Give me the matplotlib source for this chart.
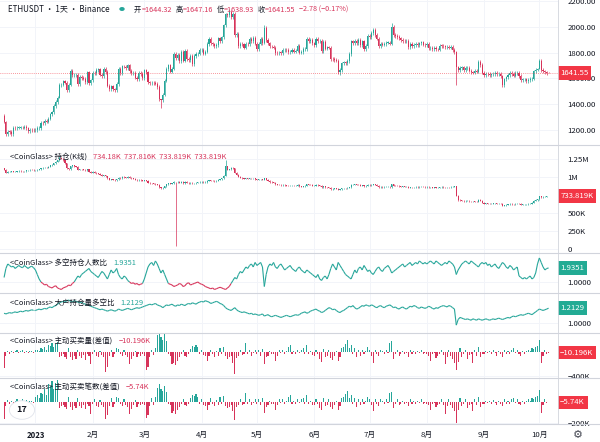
import numpy as np
import pandas as pd
import matplotlib
matplotlib.use("Agg")
import matplotlib.pyplot as plt
import matplotlib.dates as mdates
from matplotlib.collections import LineCollection
from matplotlib.lines import Line2D
from matplotlib.transforms import blended_transform_factory

plt.rcParams['font.family'] = ['Noto Sans CJK SC', 'DejaVu Sans']

START = '2022-12-15'

# ETH daily closes, Dec 15 2022 .. Oct 6 2023 (one line per month)
eth_close = [
    1265, 1167, 1187, 1185, 1167, 1217, 1212, 1218, 1219, 1220, 1218, 1226, 1212, 1190, 1200, 1199, 1196,
    1200, 1214, 1214, 1256, 1251, 1269, 1264, 1288, 1321, 1336, 1385, 1418, 1451, 1550, 1553, 1577, 1567, 1512, 1552, 1658, 1627, 1628, 1630, 1557, 1612, 1603, 1598, 1572, 1647, 1565, 1586,
    1642, 1640, 1665, 1670, 1630, 1616, 1673, 1650, 1545, 1515, 1538, 1516, 1507, 1558, 1676, 1640, 1694, 1692, 1683, 1702, 1657, 1642, 1646, 1606, 1595, 1641, 1634, 1605,
    1663, 1647, 1569, 1565, 1565, 1564, 1561, 1534, 1437, 1429, 1474, 1583, 1675, 1702, 1654, 1676, 1791, 1760, 1784, 1737, 1807, 1738, 1817, 1750, 1743, 1775, 1713, 1774, 1792, 1794, 1822,
    1823, 1793, 1808, 1867, 1909, 1872, 1866, 1850, 1862, 1911, 1892, 1919, 2012, 2099, 2094, 2117, 2075, 2100, 1937, 1944, 1852, 1871, 1866, 1840, 1867, 1866, 1908, 1893, 1918, 1870,
    1828, 1871, 1907, 1877, 1991, 1900, 1873, 1849, 1847, 1839, 1797, 1796, 1801, 1800, 1822, 1823, 1820, 1802, 1808, 1820, 1808, 1817, 1855, 1801, 1805, 1828, 1830, 1910, 1893, 1902, 1873,
    1862, 1906, 1891, 1891, 1811, 1887, 1833, 1842, 1839, 1752, 1751, 1742, 1739, 1650, 1666, 1718, 1725, 1720, 1737, 1789, 1889, 1875, 1894, 1875, 1898, 1857, 1888, 1829, 1853, 1934,
    1923, 1953, 1975, 1939, 1910, 1851, 1870, 1863, 1867, 1878, 1878, 1871, 2002, 1938, 1932, 1923, 1912, 1898, 1891, 1890, 1892, 1841, 1871, 1854, 1859, 1870, 1861, 1873, 1880, 1864, 1857,
    1870, 1836, 1838, 1829, 1835, 1827, 1825, 1855, 1853, 1849, 1846, 1848, 1839, 1844, 1820, 1807, 1686, 1663, 1682, 1686, 1666, 1683, 1684, 1661, 1648, 1645, 1657, 1653, 1729, 1705, 1646,
    1628, 1636, 1634, 1628, 1631, 1633, 1646, 1635, 1635, 1617, 1550, 1593, 1608, 1628, 1642, 1635, 1623, 1642, 1645, 1621, 1585, 1593, 1593, 1581, 1589, 1595, 1599, 1656, 1669, 1671,
    1734, 1664, 1656, 1648, 1644.32, 1641.55,
]
eth_first_open = 1308
# days with long wicks: (high, low)
eth_wicks = {
    '2022-12-16': (1272, 1150), '2023-01-14': (1565, 1450), '2023-03-10': (1440, 1370),
    '2023-04-16': (2140, 2080), '2023-05-05': (2015, 1870), '2023-06-15': (1680, 1626),
    '2023-07-13': (2030, 1860), '2023-08-17': (1810, 1550), '2023-10-01': (1750, 1670),
    '2023-10-06': (1647.16, 1638.93),
}

# open interest (K)
oi_close = [
    1100, 1060, 1070, 1075, 1080, 1070, 1075, 1080, 1085, 1080, 1078, 1082, 1090, 1095, 1100, 1098, 1090,
    1095, 1100, 1105, 1120, 1125, 1130, 1128, 1140, 1160, 1170, 1190, 1210, 1230, 1270, 1250, 1230, 1190, 1120, 1110, 1150, 1160, 1150, 1140, 1100, 1110, 1105, 1100, 1095, 1110, 1070, 1060,
    1070, 1060, 1050, 1045, 1030, 1020, 1025, 1010, 980, 960, 965, 960, 955, 965, 990, 985, 1000, 995, 990, 1000, 990, 980, 975, 960, 955, 960, 955, 950,
    955, 950, 920, 915, 910, 905, 900, 890, 860, 840, 850, 870, 900, 910, 905, 915, 930, 925, 930, 920, 935, 915, 930, 920, 915, 920, 910, 915, 920, 925, 930,
    930, 925, 930, 945, 955, 950, 945, 940, 945, 960, 970, 985, 1020, 1150, 1100, 1110, 1130, 1120, 1060, 1030, 1000, 990, 985, 975, 980, 975, 985, 980, 985, 970,
    960, 965, 970, 960, 985, 960, 950, 930, 925, 920, 900, 895, 890, 885, 890, 885, 880, 875, 875, 880, 875, 880, 890, 870, 865, 870, 875, 900, 895, 890, 880,
    880, 890, 885, 880, 860, 870, 860, 855, 850, 830, 835, 840, 835, 820, 830, 840, 845, 840, 850, 860, 890, 895, 900, 895, 890, 880, 885, 870, 875, 890,
    885, 895, 900, 890, 880, 860, 865, 860, 862, 865, 866, 860, 900, 880, 878, 875, 870, 865, 868, 865, 866, 850, 860, 855, 858, 862, 860, 865, 866, 862, 860,
    865, 855, 856, 852, 855, 850, 851, 860, 862, 860, 858, 860, 858, 862, 865, 870, 740, 680, 675, 670, 665, 668, 670, 665, 660, 660, 658, 655, 680, 670, 640,
    630, 632, 630, 628, 630, 632, 635, 630, 630, 625, 600, 610, 615, 620, 625, 624, 622, 628, 630, 625, 615, 618, 620, 622, 625, 630, 640, 670, 680, 690,
    730, 720, 725, 728, 734.18, 733.819,
]
oi_first_open = 1120
oi_wicks = {'2023-01-14': (1290, 1225), '2023-03-18': (935, 40), '2023-04-14': (1230, 1015),
            '2023-10-06': (737.816, 733.819)}

# long/short account ratio
acct_ratio = [
    1.3, 1.9, 2.2, 2.1, 2.0, 2.05, 1.9, 2.0, 2.1, 2.0, 1.95, 2.1, 2.0, 1.9, 2.0, 2.05, 1.95,
    1.8, 1.5, 1.2, 1.0, 0.9, 0.8, 0.85, 0.7, 0.65, 0.6, 0.7, 0.75, 0.6, 0.55, 0.5, 0.6, 0.65, 0.7, 0.8, 0.75, 0.9, 1.0, 1.2, 1.4, 1.3, 1.5, 1.6, 1.7, 1.8, 1.9, 1.7,
    1.6, 1.5, 1.4, 1.3, 1.5, 1.7, 1.6, 1.4, 1.2, 1.5, 1.8, 1.6, 1.7, 1.9, 1.5, 1.3, 1.2, 1.4, 1.3, 1.1, 1.0, 0.9, 0.95, 0.85, 0.9, 0.8, 0.85, 0.9,
    1.2, 1.6, 2.0, 2.2, 2.3, 2.1, 2.4, 2.2, 1.9, 1.6, 1.8, 1.5, 1.2, 0.9, 0.85, 0.8, 0.7, 0.75, 0.8, 0.9, 0.85, 0.7, 0.75, 0.9, 0.95, 0.8, 0.85, 0.9, 0.95, 1.0, 0.9,
    0.85, 0.8, 0.7, 0.65, 0.6, 0.55, 0.6, 0.5, 0.55, 0.6, 0.65, 0.6, 0.55, 0.5, 0.6, 0.7, 0.9, 1.1, 1.3, 1.2, 1.5, 1.7, 1.6, 1.8, 2.0, 1.9, 2.1, 2.2, 2.0, 2.3,
    2.1, 2.2, 2.3, 2.0, 0.7, 1.5, 2.0, 2.2, 2.1, 2.3, 2.0, 1.9, 2.1, 2.2, 2.0, 1.8, 1.9, 2.0, 2.1, 1.9, 1.8, 1.7, 1.9, 2.0, 1.8, 1.7, 1.6, 1.8, 1.7, 1.6, 1.5,
    1.4, 1.3, 1.5, 1.2, 1.1, 1.3, 1.4, 1.2, 1.5, 1.9, 2.2, 2.0, 1.8, 2.3, 2.1, 1.9, 1.7, 1.5, 1.4, 1.3, 1.2, 1.5, 1.8, 1.6, 1.9, 2.0, 1.8, 2.1, 1.9, 1.7,
    1.8, 1.6, 1.5, 1.7, 1.9, 2.0, 1.8, 1.7, 1.9, 2.0, 2.1, 1.9, 1.6, 1.7, 1.8, 1.9, 2.0, 2.1, 2.2, 2.0, 2.1, 2.2, 2.3, 2.1, 2.2, 2.3, 2.2, 2.4, 2.3, 2.2, 2.3,
    2.2, 2.3, 2.4, 2.3, 2.2, 2.4, 2.3, 2.2, 2.1, 2.2, 2.3, 2.2, 2.4, 2.3, 2.2, 2.0, 1.5, 1.8, 2.0, 2.2, 2.3, 2.4, 2.3, 2.2, 2.4, 2.3, 2.2, 2.1, 2.0, 2.2, 2.3,
    2.2, 2.3, 2.1, 2.2, 2.0, 2.1, 2.2, 2.0, 1.9, 2.1, 2.3, 2.2, 2.0, 1.9, 2.1, 2.0, 1.8, 1.9, 2.0, 1.4, 1.3, 1.2, 1.3, 1.2, 1.3, 1.4, 1.2, 1.3, 1.6, 2.2,
    2.6, 2.3, 2.0, 1.8, 1.9, 1.9351,
]

# top trader position long/short ratio
top_ratio = [
    1.14, 1.13, 1.14, 1.15, 1.14, 1.15, 1.16, 1.15, 1.16, 1.17, 1.16, 1.17, 1.18, 1.17, 1.18, 1.19, 1.18,
    1.18, 1.19, 1.2, 1.19, 1.2, 1.21, 1.2, 1.22, 1.23, 1.22, 1.24, 1.25, 1.27, 1.29, 1.3, 1.31, 1.3, 1.32, 1.33, 1.31, 1.3, 1.32, 1.31, 1.3, 1.29, 1.3, 1.28, 1.27, 1.26, 1.25, 1.24,
    1.23, 1.22, 1.21, 1.2, 1.19, 1.2, 1.19, 1.18, 1.17, 1.18, 1.19, 1.18, 1.17, 1.18, 1.2, 1.19, 1.18, 1.19, 1.2, 1.21, 1.2, 1.19, 1.2, 1.21, 1.22, 1.21, 1.22, 1.23,
    1.24, 1.25, 1.26, 1.27, 1.26, 1.27, 1.28, 1.26, 1.25, 1.24, 1.22, 1.24, 1.26, 1.25, 1.26, 1.27, 1.25, 1.24, 1.26, 1.25, 1.27, 1.26, 1.25, 1.27, 1.28, 1.27, 1.29, 1.28, 1.27, 1.29, 1.3,
    1.31, 1.3, 1.32, 1.31, 1.3, 1.28, 1.29, 1.3, 1.31, 1.3, 1.28, 1.27, 1.25, 1.22, 1.2, 1.19, 1.18, 1.2, 1.22, 1.19, 1.17, 1.16, 1.15, 1.16, 1.15, 1.14, 1.13, 1.14, 1.12, 1.13,
    1.12, 1.11, 1.12, 1.13, 1.1, 1.11, 1.12, 1.1, 1.09, 1.1, 1.11, 1.1, 1.09, 1.08, 1.09, 1.1, 1.11, 1.1, 1.09, 1.1, 1.11, 1.12, 1.11, 1.12, 1.14, 1.15, 1.16, 1.14, 1.15, 1.17, 1.18,
    1.19, 1.2, 1.18, 1.17, 1.15, 1.16, 1.18, 1.2, 1.22, 1.21, 1.19, 1.2, 1.18, 1.16, 1.15, 1.17, 1.18, 1.2, 1.22, 1.24, 1.23, 1.25, 1.22, 1.2, 1.21, 1.23, 1.25, 1.24, 1.26, 1.25,
    1.24, 1.26, 1.25, 1.23, 1.22, 1.24, 1.25, 1.23, 1.22, 1.24, 1.25, 1.26, 1.24, 1.22, 1.23, 1.21, 1.2, 1.22, 1.23, 1.21, 1.2, 1.22, 1.24, 1.23, 1.25, 1.24, 1.22, 1.21, 1.23, 1.22, 1.21,
    1.22, 1.24, 1.23, 1.21, 1.2, 1.22, 1.21, 1.23, 1.24, 1.25, 1.24, 1.23, 1.25, 1.24, 1.22, 1.2, 0.97, 1.05, 1.08, 1.07, 1.06, 1.05, 1.06, 1.05, 1.04, 1.06, 1.05, 1.04, 1.06, 1.05, 1.04,
    1.05, 1.06, 1.05, 1.04, 1.05, 1.06, 1.05, 1.06, 1.07, 1.06, 1.05, 1.06, 1.07, 1.08, 1.07, 1.09, 1.1, 1.09, 1.1, 1.11, 1.12, 1.11, 1.12, 1.13, 1.14, 1.13, 1.12, 1.14, 1.16, 1.18,
    1.2, 1.19, 1.18, 1.19, 1.2, 1.2129,
]

# taker buy/sell volume difference (K)
taker_vol = [
    -270, -60, 20, -30, 15, -20, 10, 25, -15, 10, 30, -10, 20, -25, 15, 10, -20,
    30, 40, 20, 60, 50, 90, 40, 120, 100, 150, 90, 130, 160, -90, -60, -40, -80, -120, 60, -90, -130, -60, -110, 40, -70, -100, -50, -130, -40, -60, -200,
    -40, 30, -60, -80, 20, -50, -90, -330, -250, -60, 40, -80, -30, 60, 50, -40, -70, 30, -50, -80, -200, -120, -60, 20, -90, -40, -60, -30,
    -60, -300, -250, -80, 40, -50, 60, 280, 330, 250, 200, 300, 180, -40, -60, -200, -180, -220, -150, -90, -40, 30, -60, -80, -30, 50, 100, 90, 120, 80, -40,
    30, -50, -70, -150, -60, 40, -30, -80, 20, -60, 60, -40, 90, -70, -120, -90, -60, -180, -370, -100, -60, 40, -50, -30, 150, -40, 30, -60, -20, 40,
    -40, 30, -60, 50, -200, -90, -60, 20, -40, -30, -150, -60, 30, -20, 40, -30, 20, 80, 120, -40, 20, -30, 40, -20, 30, 60, -40, 120, -30, 20, -50,
    -60, 30, -40, -120, -160, 50, -80, -60, 40, -100, -140, -60, 20, -150, -80, 60, 80, 140, 200, 60, 120, -40, 60, -90, 40, -60, 30, -30, 20, 80,
    40, -60, -180, 30, -40, -70, 40, 20, -30, 40, -20, 150, 180, -120, -40, 30, -60, -40, 20, -30, -20, -80, 30, -40, 20, -30, 10, -20, 30, -40, -20,
    -30, -60, -150, -40, -20, -100, -60, -30, 40, -50, -200, -80, 30, -60, -120, -180, -300, -160, 60, -80, -40, 30, -120, -50, -30, -180, 40, -60, 80, -90, -40,
    -30, 20, -20, 15, -40, 30, -20, -60, 20, -30, -80, 40, -30, 20, -40, 30, 60, -20, 40, -30, -60, 20, -30, 15, 40, 20, 60, 50, 80, 100,
    200, -180, -60, 40, -30, -10.196,
]

# taker buy/sell trade count difference (K)
taker_cnt = [
    -160, -40, 15, -20, 10, -15, 8, 20, -10, 8, 25, -8, 15, -20, 10, 8, -15,
    40, 60, 30, 80, 70, 120, 60, 160, 140, 190, 120, 170, 200, -60, -40, -30, -50, -70, 40, -50, -80, -40, -60, 30, -40, -60, -30, -70, -20, -40, -110,
    -20, 20, -40, -50, 15, -30, -50, -160, -120, -40, 30, -50, -20, 40, 30, -20, -40, 20, -30, -50, -110, -70, -30, 15, -50, -20, -30, -20,
    -30, -150, -120, -40, 30, -30, 40, 130, 160, 120, 100, 140, 90, -20, -30, -100, -90, -110, -80, -50, -20, 20, -30, -40, -20, 30, 60, 50, 70, 40, -20,
    20, -30, -40, -80, -30, 30, -20, -40, 15, -30, 40, -20, 50, -40, -60, -50, -30, -90, -170, -50, -30, 20, -30, -20, 80, -20, 20, -30, -10, 20,
    -20, 20, -30, 30, -100, -50, -30, 10, -20, -20, -80, -30, 20, -10, 20, -20, 10, 40, 60, -20, 10, -20, 20, -10, 20, 30, -20, 60, -20, 10, -30,
    -30, 20, -20, -60, -80, 30, -40, -30, 20, -50, -70, -30, 10, -80, -40, 30, 40, 70, 100, 30, 60, -20, 30, -50, 20, -30, 20, -20, 10, 40,
    20, -30, -90, 20, -20, -40, 20, 10, -20, 20, -10, 80, 90, -60, -20, 20, -30, -20, 10, -20, -10, -40, 20, -20, 10, -20, 5, -10, 20, -20, -10,
    -20, -30, -80, -20, -10, -50, -30, -20, 20, -30, -110, -40, 20, -30, -60, -90, -200, -80, 30, -40, -20, 20, -60, -30, -20, -90, 20, -30, 40, -50, -20,
    -20, 10, -10, 8, -20, 15, -10, -30, 10, -20, -40, 20, -20, 10, -20, 20, 30, -10, 20, -20, -30, 10, -20, 8, 20, 10, 30, 25, 40, 50,
    110, -100, -30, 20, -15, -5.74,
]

month_ticks = ['2023-01-01', '2023-02-01', '2023-03-01', '2023-04-01', '2023-05-01',
               '2023-06-01', '2023-07-01', '2023-08-01', '2023-09-01', '2023-10-01']
month_labels = ['2023', '2月', '3月', '4月', '5月', '6月', '7月', '8月', '9月', '10月']

UP = '#26a69a'
DOWN = '#d7335a'
BOX_RED = '#f23645'
BOX_GREEN = '#22ab94'
GRID = '#f2f4f9'
TXT = '#131722'
SEP = '#d1d4dc'
LEG = 5.4

W, H = 600, 442
fig = plt.figure(figsize=(W / 100, H / 100), dpi=100)
fig.patch.set_facecolor('white')
renderer = fig.canvas.get_renderer()

dates = pd.date_range(START, periods=len(eth_close), freq='D')
x = mdates.date2num(dates)
day_keys = [d.strftime('%Y-%m-%d') for d in dates]
xt = mdates.date2num(pd.to_datetime(month_ticks))
x_lo = x[0] - 2.2
x_hi = x_lo + 302.3

PLOT_R = 558
# panel edges in pixels from top
panels = [(0, 145), (145, 253), (253, 293), (293, 333), (333, 378), (378, 424)]
axes = []
for top, bot in panels:
    ax = fig.add_axes([0, 1 - bot / H, PLOT_R / W, (bot - top) / H])
    ax.set_xlim(x_lo, x_hi)
    ax.set_xticks(xt)
    ax.tick_params(axis='x', length=0, labelbottom=False)
    ax.yaxis.tick_right()
    ax.tick_params(axis='y', length=0, labelsize=5.6, colors=TXT, pad=7)
    ax.grid(color=GRID, lw=0.7)
    ax.set_axisbelow(True)
    for s in ax.spines.values():
        s.set_visible(False)
    axes.append(ax)

for _, bot in panels:
    fig.add_artist(Line2D([0, 1], [1 - bot / H, 1 - bot / H], color=SEP, lw=0.8))
fig.add_artist(Line2D([PLOT_R / W, PLOT_R / W], [1 - 424 / H, 1], color=SEP, lw=0.6))


def candles(ax, first_open, closes, wicks, width, lw):
    closes = np.asarray(closes, dtype=float)
    opens = np.concatenate([[first_open], closes[:-1]])
    highs = np.maximum(opens, closes)
    lows = np.minimum(opens, closes)
    span = np.nanmean(closes) * 0.008
    highs = highs + span
    lows = lows - span
    for k, (hh, ll) in wicks.items():
        if k in day_keys:
            i = day_keys.index(k)
            highs[i], lows[i] = hh, ll
    cols = np.where(closes >= opens, UP, DOWN)
    ax.vlines(x, lows, highs, colors=cols, lw=lw)
    body = closes - opens
    body = np.where(np.abs(body) < span * 0.15, span * 0.15, body)
    ax.bar(x, body, bottom=opens, width=width, color=cols, linewidth=0)


def value_box(ax, y, text, color):
    tr = blended_transform_factory(ax.transAxes, ax.transData)
    t = ax.text(1.004, y, text, transform=tr, ha='left', va='center', fontsize=5.6,
                color='white', bbox=dict(boxstyle='square,pad=0.35', fc=color, ec='none'),
                clip_on=False, zorder=10)
    return t


def row_text(xp, yp, parts, size=LEG, gap=4):
    # lay out (text, colour) pieces left to right, measuring each
    for s, c in parts:
        t = fig.text(xp / W, 1 - yp / H, s, color=c, fontsize=size, va='center', ha='left')
        bb = t.get_window_extent(renderer)
        xp = bb.x1 + gap
    return xp


# price panel
ax = axes[0]
candles(ax, eth_first_open, eth_close, eth_wicks, 0.6, 0.5)
ax.set_ylim(1083, 2210)
ax.set_yticks([1200, 1400, 1600, 1800, 2000, 2200])
ax.set_yticklabels(['1200.00', '1400.00', '1600.00', '1800.00', '2000.00', '2200.00'])
ax.axhline(eth_close[-1], color=BOX_RED, lw=0.5, ls=(0, (1, 2)))
value_box(ax, eth_close[-1], f'{eth_close[-1]:.2f}', BOX_RED)

# open interest panel
ax = axes[1]
candles(ax, oi_first_open, oi_close, oi_wicks, 0.6, 0.5)
ax.set_ylim(-56, 1444)
ax.set_yticks([0, 250, 500, 1000, 1250])
ax.set_yticklabels(['0', '250K', '500K', '1M', '1.25M'])
value_box(ax, oi_close[-1], f'{oi_close[-1]:.3f}K', BOX_RED)


def ratio_line(ax, vals):
    vals = np.asarray(vals, dtype=float)
    pts = np.column_stack([x, vals])
    segs = np.stack([pts[:-1], pts[1:]], axis=1)
    mid = (vals[:-1] + vals[1:]) / 2
    cols = np.where(mid < 1.0, DOWN, UP)
    ax.add_collection(LineCollection(segs, colors=cols, linewidths=0.8))


ax = axes[2]
ratio_line(ax, acct_ratio)
ax.set_ylim(0.267, 2.93)
ax.set_yticks([1.0])
ax.set_yticklabels(['1.0000'])
value_box(ax, acct_ratio[-1], f'{acct_ratio[-1]:.4f}', BOX_GREEN)

ax = axes[3]
ratio_line(ax, top_ratio)
ax.set_ylim(0.857, 1.43)
ax.set_yticks([1.0])
ax.set_yticklabels(['1.0000'])
value_box(ax, top_ratio[-1], f'{top_ratio[-1]:.4f}', BOX_GREEN)


def diff_bars(ax, vals):
    vals = np.asarray(vals, dtype=float)
    cols = np.where(vals >= 0, UP, DOWN)
    ax.bar(x, vals, width=0.6, color=cols, linewidth=0)


ax = axes[4]
diff_bars(ax, taker_vol)
ax.set_ylim(-434, 317)
ax.set_yticks([-400])
ax.set_yticklabels(['\u2212400K'])
value_box(ax, taker_vol[-1], f'\u2212{abs(taker_vol[-1]):.3f}K', BOX_RED)

ax = axes[5]
diff_bars(ax, taker_cnt)
ax.set_ylim(-206, 218)
ax.set_yticks([-200])
ax.set_yticklabels(['\u2212200K'])
value_box(ax, taker_cnt[-1], f'\u2212{abs(taker_cnt[-1]):.2f}K', BOX_RED)

# bottom date labels
for t, lab in zip(xt, month_labels):
    xp = (t - x_lo) / (x_hi - x_lo) * PLOT_R
    fig.text(xp / W, 1 - 435 / H, lab, color=TXT, fontsize=5.6, ha='center', va='center',
             fontweight='bold' if lab == '2023' else 'normal')

# gear icon and logo
fig.text(578 / W, 1 - 435 / H, '\u2699', fontsize=8, color='#434651', ha='center', va='center',
         family='DejaVu Sans')
fig.add_artist(plt.Circle((22 / W, 1 - 410 / H), 0.021, transform=fig.transFigure,
                          fc='white', ec='#e0e3eb', lw=0.6))
fig.text(22 / W, 1 - 410 / H, '17', fontsize=6.5, fontweight='bold', color=TXT,
         ha='center', va='center')

# legends
row_text(8, 9, [('ETHUSDT · 1天 · Binance', TXT)], size=5.8)
fig.add_artist(plt.Circle((122 / W, 1 - 9 / H), 0.0045, transform=fig.transFigure, fc=UP, ec='none'))
xp = 134
for lab, val in [('开', '=1644.32'), ('高', '=1647.16'), ('低', '=1638.93'), ('收', '=1641.55')]:
    xp = row_text(xp, 10, [(lab, TXT), (val, DOWN)], size=5.2, gap=0.3) + 3
row_text(xp, 10, [('\u22122.78 (\u22120.17%)', DOWN)], size=5.2)

row_text(10, 157, [('<CoinGlass> 持仓(K线)', TXT), ('734.18K  737.816K  733.819K  733.819K', DOWN)], gap=6)
row_text(10, 263, [('<CoinGlass> 多空持仓人数比', TXT), ('1.9351', UP)], gap=6)
row_text(10, 303, [('<CoinGlass> 大户持仓量多空比', TXT), ('1.2129', UP)], gap=6)
row_text(10, 341, [('<CoinGlass> 主动买卖量(差值)', TXT), ('\u221210.196K', DOWN)], gap=6)
row_text(10, 387, [('<CoinGlass> 主动买卖笔数(差值)', TXT), ('\u22125.74K', DOWN)], gap=6)

fig.savefig('out.png', dpi=100)
